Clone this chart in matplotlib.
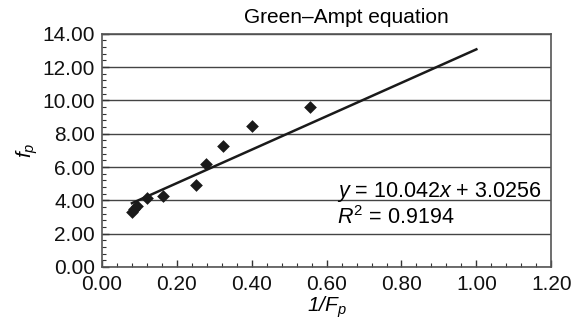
import numpy as np
import matplotlib
matplotlib.use("Agg")
import matplotlib.pyplot as plt
from matplotlib.ticker import MultipleLocator, FormatStrFormatter

plt.rcParams['font.family'] = ['Liberation Sans', 'DejaVu Sans']
plt.rcParams['mathtext.fontset'] = 'custom'
plt.rcParams['mathtext.it'] = 'Liberation Sans:italic'
plt.rcParams['mathtext.rm'] = 'Liberation Sans'

# ---- data ----
inv_Fp = [0.080, 0.086, 0.093, 0.121, 0.162, 0.251, 0.278, 0.324, 0.402, 0.555]
fp = [3.30, 3.45, 3.65, 4.11, 4.27, 4.91, 6.17, 7.26, 8.44, 9.60]

slope = 10.042
intercept = 3.0256
r2 = 0.9194
trend_x_end = 1.0

fig = plt.figure(figsize=(5.73, 3.22), dpi=100)
ax = fig.add_axes([0.178, 0.171, 0.784, 0.724])

# trendline
tx = np.array([min(inv_Fp), trend_x_end])
ax.plot(tx, slope * tx + intercept, color='#1a1a1a', lw=1.8, zorder=3)

# points
ax.scatter(inv_Fp, fp, marker='D', s=42, color='#1a1a1a', zorder=4, linewidths=0)

ax.set_xlim(0, 1.2)
ax.set_ylim(0, 14)
ax.xaxis.set_major_locator(MultipleLocator(0.2))
ax.xaxis.set_minor_locator(MultipleLocator(0.04))
ax.yaxis.set_major_locator(MultipleLocator(2))
ax.yaxis.set_minor_locator(MultipleLocator(0.4))
ax.xaxis.set_major_formatter(FormatStrFormatter('%.2f'))
ax.yaxis.set_major_formatter(FormatStrFormatter('%.2f'))

ax.tick_params(which='both', direction='in', colors='#333333', labelcolor='#111111',
               labelsize=15)
ax.tick_params(which='major', length=5, width=1)
ax.tick_params(which='minor', length=3, width=0.8)
ax.tick_params(axis='x', pad=6)
ax.tick_params(axis='y', pad=5)

ax.yaxis.grid(True, which='major', color='#444444', lw=1)
ax.set_axisbelow(True)
for s in ax.spines.values():
    s.set_color('#555555')
    s.set_linewidth(1.2)

ax.set_title('Green\u2013Ampt equation', fontsize=15, pad=8, x=0.545)
ax.set_xlabel('1/$F_p$', fontsize=15, style='italic', labelpad=0.5)
ax.set_ylabel('$f_p$', fontsize=15, labelpad=2)

ax.text(0.627, 4.21, '$y$ = 10.042$x$ + 3.0256', fontsize=15.5, va='baseline')
ax.text(0.627, 2.56, '$R^2$ = %.4f' % r2, fontsize=15.5, va='baseline')

fig.savefig('out.png', dpi=100)
